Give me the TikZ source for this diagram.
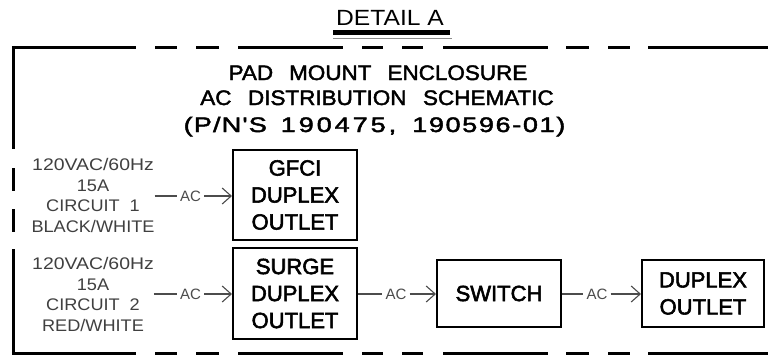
\documentclass[tikz,border=0pt]{standalone}
\usepackage{fontspec}
\usepackage{graphicx}
\setmainfont{Liberation Sans}
\newfontfamily\titlefont{Liberation Sans}[FakeStretch=1.07,FakeBold=2]
\newfontfamily\boxfont{Liberation Sans}[FakeBold=2.5]
\newfontfamily\detailfont{Liberation Sans}[FakeStretch=1.12]
\newfontfamily\labelfont{Liberation Sans}[FakeStretch=1.08]
\newcommand\hsc[2]{\scalebox{#1}[1]{#2}}
\newcommand\ka{\kern1.0pt}
\newcommand\kb{\kern2.5pt}
\newcommand\kc{\kern1.4pt}
\usetikzlibrary{arrows.meta}
\begin{document}
\begin{tikzpicture}[x=1pt,y=-1pt,
  border/.style={line width=3pt, black},
  boxstyle/.style={draw=black, line width=2pt, inner sep=0pt, align=center,
    font=\boxfont\fontsize{22}{27}\selectfont},
  wire/.style={draw=black!70, line width=1.1pt},
  arr/.style={wire, -{Straight Barb[length=9pt,width=16pt]}},
  aclab/.style={inner xsep=3pt, inner ysep=0pt, text=black!70,
    font=\fontsize{15}{15}\selectfont},
  circ/.style={inner sep=0pt, align=center, anchor=north, text=black!75,
    font=\labelfont\fontsize{16.8}{20.8}\selectfont},
  ttl/.style={inner sep=0pt, anchor=base, font=\titlefont\fontsize{21}{21}\selectfont}]

\useasboundingbox[fill=white] (0,0) rectangle (768,359);

% enclosure outline
\draw[border, dash pattern=on 124.5pt off 19pt on 22pt off 19pt on 23pt off 19pt on 105pt off 19pt on 21pt off 19pt on 21pt off 20pt on 105pt off 18pt on 23pt off 19pt on 22pt off 18pt on 200pt off 1pt]
  (11.8,47.3) -- (770,47.3);
\draw[border, dash pattern=on 124.5pt off 19pt on 22pt off 19pt on 23pt off 19pt on 105pt off 19pt on 21pt off 19pt on 21pt off 20pt on 105pt off 18pt on 23pt off 19pt on 22pt off 18pt on 200pt off 1pt]
  (11.8,353.3) -- (770,353.3);
\draw[border, dash pattern=on 103.2pt off 19pt on 23pt off 18pt on 23pt off 17pt on 200pt off 1pt]
  (13.3,45.8) -- (13.3,354.8);

% detail title
\node[inner sep=0pt, anchor=base, font=\detailfont\fontsize{22}{22}\selectfont] (detail) at (390,25) {DETAIL A};
\draw[line width=5pt] (333,32.5) -- (450,32.5);
\draw[line width=1.3pt, black!45] (333,38.5) -- (452,38.5);

% schematic title
\node[ttl] (t1) at (378,80) {PAD\hspace{16pt}MOUNT\hspace{16pt}ENCLOSURE};
\node[ttl] (t2) at (377,105) {AC\hspace{16.5pt}DISTRIBUTION\hspace{16.5pt}SCHEMATIC};
\node[ttl] (t3) at (374.5,132) {\hsc{1.2}{(\ka P\ka /\ka N\ka '\ka S}\hspace{14pt}\hsc{1.2}{1\kb 9\kb 0\kb 4\kb 7\kb 5\kb ,}\hspace{16pt}\hsc{1.2}{1\kc 9\kc 0\kc 5\kc 9\kc 6\kc -\kc 0\kc 1\kc )}};

% circuit labels
\node[circ] (c1) at (93,158) {\hsc{1.07}{120VAC/60Hz}\\15A\\CIRCUIT\hspace{10pt}1\\BLACK/WHITE};
\node[circ] (c2) at (93,257) {\hsc{1.07}{120VAC/60Hz}\\15A\\CIRCUIT\hspace{10pt}2\\RED/WHITE};

% boxes
\node[boxstyle, minimum width=124pt, minimum height=90pt] (gfci) at (295,195) {GFCI\\DUPLEX\\OUTLET};
\node[boxstyle, minimum width=124pt, minimum height=91pt] (surge) at (295,293.5) {SURGE\\DUPLEX\\OUTLET};
\node[boxstyle, minimum width=124pt, minimum height=67pt] (switch) at (499,293.5) {SWITCH};
\node[boxstyle, minimum width=122pt, minimum height=67pt] (duplex) at (703,293.5) {DUPLEX\\OUTLET};

% AC labels
\node[aclab] (ac1) at (190.5,196) {AC};
\node[aclab] (ac2) at (190.5,294) {AC};
\node[aclab] (ac3) at (396,294) {AC};
\node[aclab] (ac4) at (597,294) {AC};

% connectors
\draw[wire] (c1.east |- ac1) -- (ac1.west);
\draw[arr] (ac1.east) -- (ac1.east -| gfci.west);
\draw[wire] (c2.east |- ac2) -- (ac2.west);
\draw[arr] (ac2.east) -- (ac2.east -| surge.west);
\draw[wire] (surge.east |- ac3) -- (ac3.west);
\draw[arr] (ac3.east) -- (ac3.east -| switch.west);
\draw[wire] (switch.east |- ac4) -- (ac4.west);
\draw[arr] (ac4.east) -- (ac4.east -| duplex.west);
\end{tikzpicture}
\end{document}
